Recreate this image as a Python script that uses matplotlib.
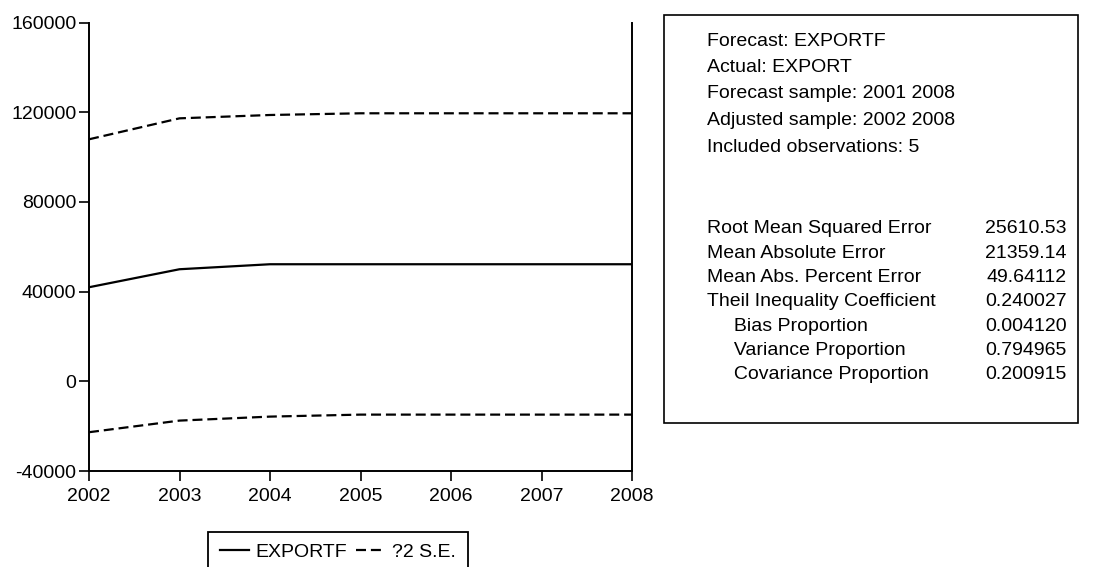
import matplotlib.pyplot as plt
from matplotlib.patches import Rectangle

plt.rcParams['font.family'] = ['Liberation Sans', 'DejaVu Sans']
plt.rcParams['axes.unicode_minus'] = False

# forecast path and +/- 2 standard error band
years = [2002, 2003, 2004, 2005, 2006, 2007, 2008]
exportf = [41960, 49990, 52220, 52220, 52220, 52220, 52220]
upper_se = [107950, 117300, 118790, 119550, 119550, 119550, 119550]
lower_se = [-22700, -17520, -15740, -14850, -14850, -14850, -14850]

y_ticks = [-40000, 0, 40000, 80000, 120000, 160000]

# forecast evaluation statistics
header_lines = [
    "Forecast: EXPORTF",
    "Actual: EXPORT",
    "Forecast sample: 2001 2008",
    "Adjusted sample: 2002 2008",
    "Included observations: 5",
]
stat_names = [
    "Root Mean Squared Error",
    "Mean Absolute Error",
    "Mean Abs. Percent Error",
    "Theil Inequality Coefficient",
    "     Bias Proportion",
    "     Variance Proportion",
    "     Covariance Proportion",
]
stat_values = ["25610.53", "21359.14", "49.64112", "0.240027",
               "0.004120", "0.794965", "0.200915"]

W, H = 1094, 567
FS = 14
fig = plt.figure(figsize=(W / 100, H / 100), dpi=100)
ax = fig.add_axes([89 / W, 1 - 471 / H, 543 / W, 448.4 / H])

dash = (0, (4.5, 2.2))
line_f, = ax.plot(years, exportf, color='black', linewidth=1.6,
                  label='EXPORTF')
line_se, = ax.plot(years, upper_se, color='black', linewidth=1.6,
                   linestyle=dash, label='?2 S.E.')
ax.plot(years, lower_se, color='black', linewidth=1.6, linestyle=dash)

ax.set_xlim(2002, 2008)
ax.set_ylim(-40000, 160000)
ax.set_xticks(years)
ax.set_yticks(y_ticks)
ax.tick_params(direction='out', length=7, width=1.2, labelsize=FS,
               colors='black')
ax.tick_params(axis='y', pad=2)
ax.tick_params(axis='x', pad=5)
for sp in ax.spines.values():
    sp.set_linewidth(1.4)
ax.spines['top'].set_visible(False)

# legend box sits below the axis, cut by the figure edge
leg = fig.legend(handles=[line_f, line_se], ncol=2, loc='upper left',
                 bbox_to_anchor=(208 / W, 1 - 532 / H), frameon=True,
                 fontsize=FS, handlelength=1.5, columnspacing=0.45,
                 handletextpad=0.35, borderpad=0.6, borderaxespad=0,
                 fancybox=False, edgecolor='black', framealpha=1)
leg.get_frame().set_linewidth(1.3)

# statistics box
box_l, box_t, box_r, box_b = 664, 15, 1078, 423
fig.patches.append(Rectangle((box_l / W, 1 - box_b / H),
                             (box_r - box_l) / W, (box_b - box_t) / H,
                             transform=fig.transFigure, fill=False,
                             edgecolor='black', linewidth=1.2))
for i, txt in enumerate(header_lines):
    fig.text(707 / W, 1 - (41 + 26.5 * i) / H, txt, fontsize=FS,
             va='center', ha='left')
for i, (name, val) in enumerate(zip(stat_names, stat_values)):
    y = 1 - (229 + 24.3 * i) / H
    fig.text(707 / W, y, name, fontsize=FS, va='center', ha='left')
    fig.text(1067 / W, y, val, fontsize=FS, va='center', ha='right')

fig.savefig('out.png', dpi=100)
